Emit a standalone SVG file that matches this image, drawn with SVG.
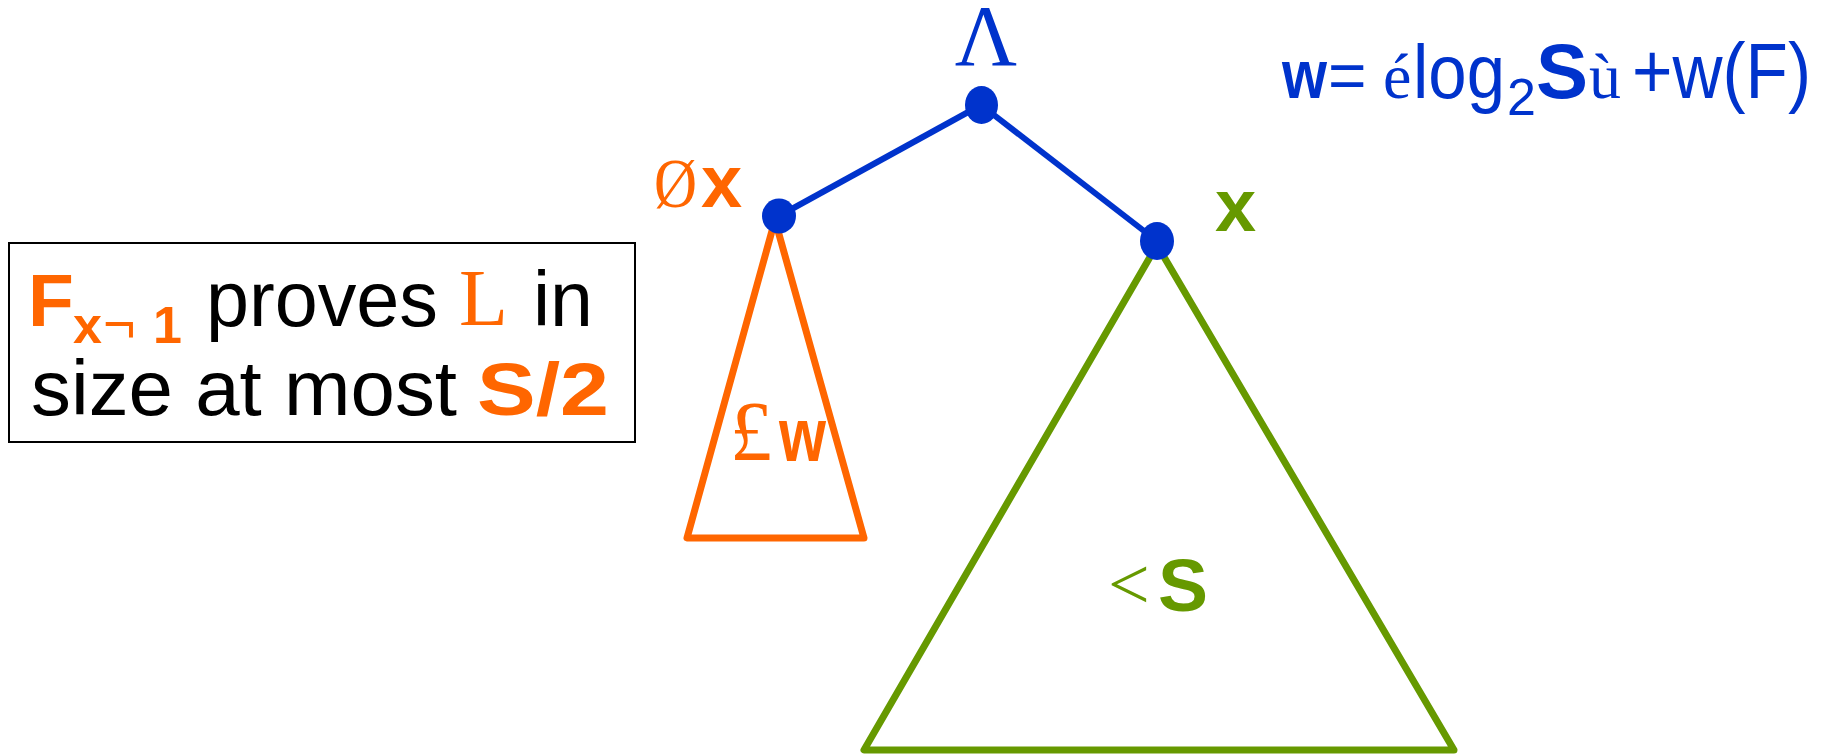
<svg xmlns="http://www.w3.org/2000/svg" width="1831" height="755" viewBox="0 0 1831 755">
<style>
.sans{font-family:"Liberation Sans",Arial,sans-serif}
.serif{font-family:"Liberation Serif","Times New Roman",serif}
.b{font-weight:bold}
.blue{fill:#0033CC}
.orange{fill:#FF6600}
.green{fill:#669900}
.black{fill:#000}
.edge{stroke:#0033CC;stroke-width:6;fill:none}
.dot{fill:#0033CC}
</style>
<rect width="1831" height="755" fill="#fff"/>
<g id="connectors">
<line class="edge" x1="981" y1="105" x2="779" y2="216"/>
<line class="edge" x1="981" y1="105" x2="1157" y2="241"/>
</g>
<g id="tri-left">
<polygon points="775,220 687,538 864,538" fill="none" stroke="#FF6600" stroke-width="7" stroke-linejoin="round"/>
<text class="serif orange" x="730" y="460" font-size="84">£</text>
<text class="sans b orange" x="779" y="461" font-size="76" textLength="47" lengthAdjust="spacingAndGlyphs">w</text>
</g>
<g id="tri-right">
<polygon points="1157,245 864,750 1454,750" fill="none" stroke="#669900" stroke-width="7" stroke-linejoin="round"/>
<text class="serif green" x="1108" y="609" font-size="74">&lt;</text>
<text class="sans b green" x="1158" y="611" font-size="75">S</text>
</g>
<g id="node-root">
<ellipse class="dot" cx="981.5" cy="105" rx="16.5" ry="19"/>
<text class="serif blue" x="986" y="65" font-size="86" text-anchor="middle">Λ</text>
</g>
<g id="node-left">
<ellipse class="dot" cx="779" cy="216" rx="17" ry="17.5"/>
<text class="serif orange" x="654" y="207" font-size="70" textLength="43" lengthAdjust="spacingAndGlyphs">Ø</text>
<text class="sans b orange" x="701" y="207" font-size="74">x</text>
</g>
<g id="node-right">
<ellipse class="dot" cx="1157" cy="241" rx="17" ry="19"/>
<text class="sans b green" x="1215" y="231" font-size="74">x</text>
</g>
<g id="formula">
<text class="sans b blue" x="1282" y="98" font-size="68" textLength="45" lengthAdjust="spacingAndGlyphs">w</text>
<text class="sans blue" x="1328" y="98" font-size="66">=</text>
<text class="serif blue" x="1383" y="98" font-size="64">é</text>
<text class="sans blue" x="1413" y="98" font-size="76" textLength="92" lengthAdjust="spacingAndGlyphs">log</text>
<text class="sans blue" x="1507" y="115" font-size="52">2</text>
<text class="sans b blue" x="1536" y="98" font-size="78">S</text>
<text class="serif blue" x="1589" y="98" font-size="64">ù</text>
<text class="sans blue" x="1632" y="98" font-size="78" textLength="179" lengthAdjust="spacingAndGlyphs">+w(F)</text>
</g>
<g id="note">
<rect x="9" y="243" width="626" height="199" fill="none" stroke="#000" stroke-width="2"/>
<text class="sans b orange" x="28" y="326" font-size="75">F</text>
<text class="sans b orange" x="73" y="343" font-size="52">x</text>
<text class="sans orange" x="103" y="343" font-size="56">¬</text>
<text class="sans b orange" x="153" y="343" font-size="52">1</text>
<text class="sans black" x="206" y="326" font-size="78" textLength="232" lengthAdjust="spacingAndGlyphs">proves</text>
<text class="serif orange" x="459" y="325" font-size="80">L</text>
<text class="sans black" x="533" y="326" font-size="78" textLength="60" lengthAdjust="spacingAndGlyphs">in</text>
<text class="sans black" x="31" y="415" font-size="78" textLength="426" lengthAdjust="spacingAndGlyphs">size at most</text>
<text class="sans b orange" x="477" y="415" font-size="75" textLength="132" lengthAdjust="spacingAndGlyphs">S/2</text>
</g>
</svg>
